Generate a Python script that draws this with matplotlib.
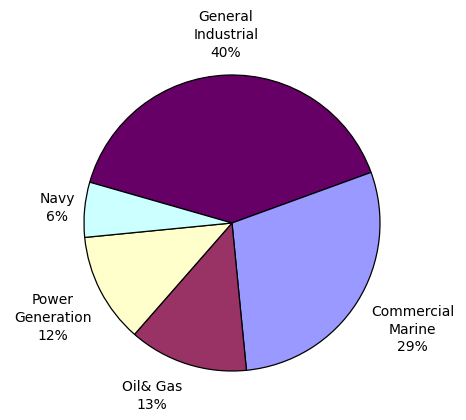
import matplotlib.pyplot as plt

segments = ["General\nIndustrial", "Commercial\nMarine", "Oil& Gas", "Power\nGeneration", "Navy"]
shares = [40, 29, 13, 12, 6]
colours = ["#660066", "#9999ff", "#993366", "#ffffcc", "#ccffff"]

# where the labels sit (pie radius = 1)
label_xy = [(-0.04, 1.27), (1.22, -0.72), (-0.54, -1.17), (-1.21, -0.64), (-1.18, 0.10)]

fig = plt.figure(figsize=(4.66, 4.2), dpi=100)
ax = fig.add_axes([0, 0, 1, 1])

ax.pie(shares, colors=colours, startangle=164, counterclock=False,
       wedgeprops=dict(edgecolor="black", linewidth=0.9))

for name, val, (x, y) in zip(segments, shares, label_xy):
    ax.text(x, y, f"{name}\n{val}%", ha="center", va="center",
            fontsize=10, family="DejaVu Sans", linespacing=1.35)

r = 148
ax.set_xlim(-232 / r, (466 - 232) / r)
ax.set_ylim(-197 / r, 223 / r)
ax.set_aspect("auto")
ax.axis("off")

fig.savefig("out.png", dpi=100, facecolor="white")
